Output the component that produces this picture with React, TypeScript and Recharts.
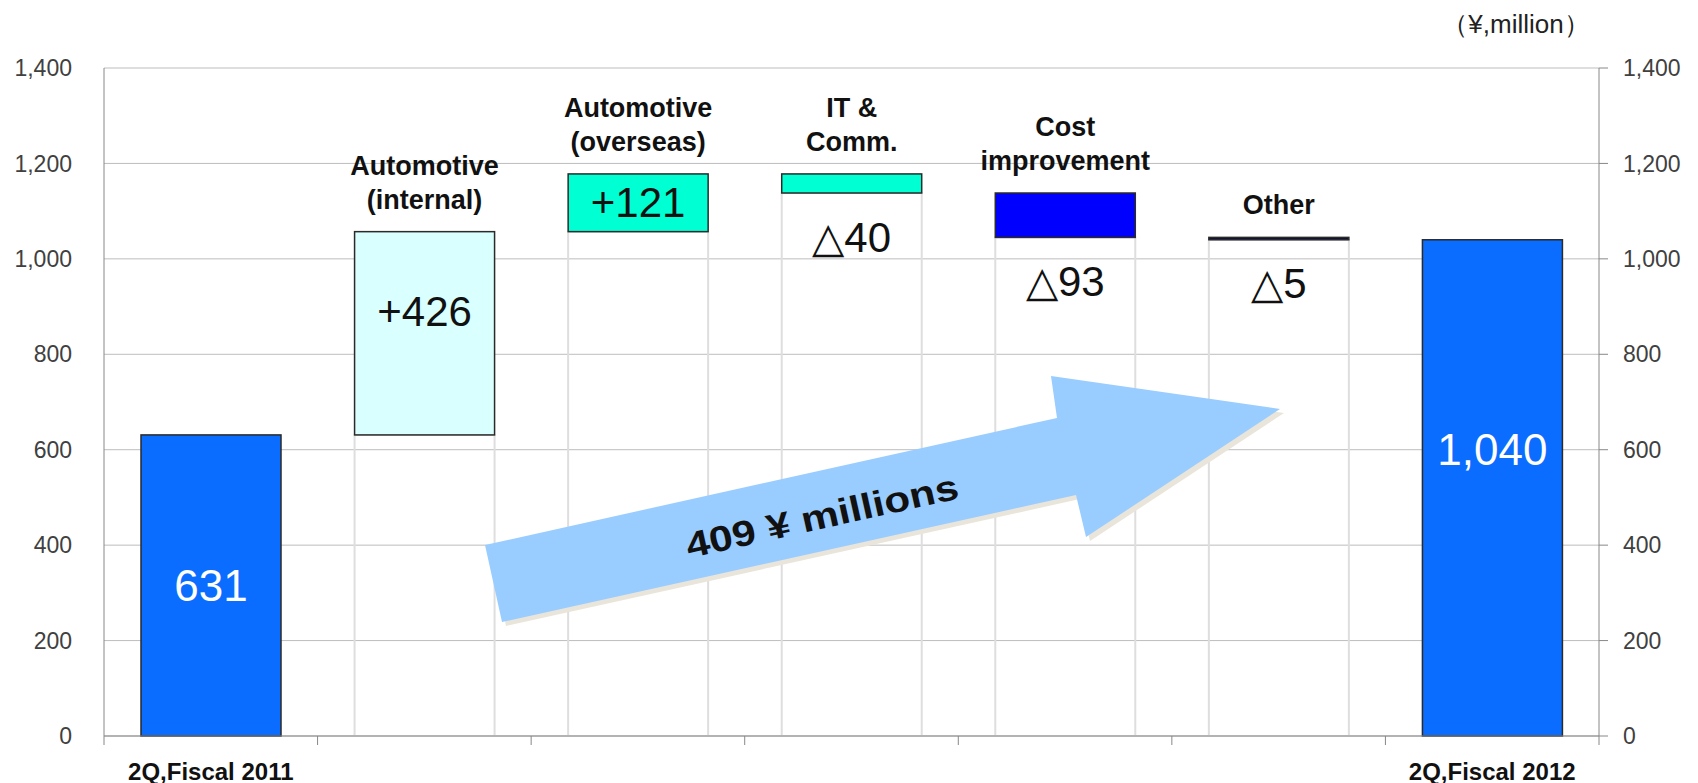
import React from "react";
import { Bar, ComposedChart, CartesianGrid, Line, XAxis, YAxis } from "recharts";

const startLabel = "2Q,Fiscal 2011";
const endLabel = "2Q,Fiscal 2012";
const startValue = 631;
const endValue = 1040;
const driverNames = [
  ["Automotive", "(internal)"],
  ["Automotive", "(overseas)"],
  ["IT &", "Comm."],
  ["Cost", "improvement"],
  ["Other"],
];
const driverChanges = [426, 121, -40, -93, -5];
const yTicks = [0, 200, 400, 600, 800, 1000, 1200, 1400];
const unitLabel = "（¥,million）";
const arrowLabel = "409 ¥ millions";

const totalColor = "#0a6dff";
const driverColors = ["#d9ffff", "#00ffd2", "#00ffd2", "#0000ff", "#10103c"];

const W = 1698;
const H = 783;
const PLOT_LEFT = 104;
const PLOT_RIGHT = 1599;
const FONT = "'Liberation Sans', Arial, sans-serif";

type Row = {
  key: string;
  lines: string[];
  axis: string;
  base: number;
  size: number;
  value: number;
  kind: "total" | "up" | "down";
  fill: string;
};

const rows: Row[] = [];
rows.push({ key: startLabel, lines: [], axis: startLabel, base: 0, size: startValue, value: startValue, kind: "total", fill: totalColor });
let level = startValue;
driverChanges.forEach((c, i) => {
  const next = level + c;
  rows.push({
    key: driverNames[i].join(" "),
    lines: driverNames[i],
    axis: "",
    base: Math.min(level, next),
    size: Math.abs(c),
    value: c,
    kind: c >= 0 ? "up" : "down",
    fill: driverColors[i],
  });
  level = next;
});
rows.push({ key: endLabel, lines: [], axis: endLabel, base: 0, size: endValue, value: endValue, kind: "total", fill: totalColor });

const bandWidth = (PLOT_RIGHT - PLOT_LEFT) / rows.length;

function valueText(r: Row): string {
  if (r.kind === "total") return r.value.toLocaleString("en-US");
  if (r.kind === "up") return `+${r.value}`;
  return `△${-r.value}`;
}

function BaseShape(props: any) {
  const { x, y, width, height } = props;
  if (!height || height <= 0) return null;
  return <rect x={x} y={y} width={width} height={height} fill="none" stroke="#dedede" strokeWidth={2} />;
}

function DeltaShape(props: any) {
  const { x, y, width, height, payload } = props;
  const r = payload as Row;
  const cx = x + width / 2;
  const lineGap = 34;
  return (
    <g>
      <rect x={x} y={y} width={width} height={Math.max(height, 1)} fill={r.fill} stroke="#2a2a2a" strokeWidth={1.5} />
      {r.lines.map((t, i) => (
        <text
          key={t}
          x={cx}
          y={y - 32 - (r.lines.length - 1 - i) * lineGap}
          textAnchor="middle"
          dominantBaseline="central"
          fontSize={27}
          fontWeight="bold"
          fill="#111"
        >
          {t}
        </text>
      ))}
      {r.kind === "total" && (
        <text x={cx} y={y + Math.min(height / 2, 210)} textAnchor="middle" dominantBaseline="central" fontSize={44} fill="#fff">
          {valueText(r)}
        </text>
      )}
      {r.kind === "up" && (
        <text x={cx} y={y + Math.min(height / 2, 80)} textAnchor="middle" dominantBaseline="central" fontSize={42} fill="#111">
          {valueText(r)}
        </text>
      )}
      {r.kind === "down" && (
        <text x={cx} y={y + height + 44} textAnchor="middle" dominantBaseline="central" fontSize={42} fill="#111">
          {valueText(r)}
        </text>
      )}
    </g>
  );
}

function AxisTick(props: any) {
  const { x, y, payload, index } = props;
  const r = rows.find((d) => d.key === payload.value);
  const left = x - bandWidth / 2;
  return (
    <g>
      <line x1={left} y1={y} x2={left} y2={y + 9} stroke="#888" />
      {index === rows.length - 1 && <line x1={x + bandWidth / 2} y1={y} x2={x + bandWidth / 2} y2={y + 9} stroke="#888" />}
      {r && r.axis && (
        <text x={x} y={y + 35} textAnchor="middle" dominantBaseline="central" fontSize={24} fontWeight="bold" fill="#111">
          {r.axis}
        </text>
      )}
    </g>
  );
}

export default function App() {
  return (
    <div style={{ position: "relative", width: W, height: H, background: "#fff", fontFamily: FONT }}>
      <style>{"body{margin:0}"}</style>
      <ComposedChart
        width={W}
        height={H}
        data={rows}
        barSize={140}
        margin={{ top: 68, right: 19, bottom: 7, left: 24 }}
        style={{ fontFamily: FONT }}
      >
        <CartesianGrid vertical={false} stroke="#bdbdbd" />
        <XAxis
          dataKey="key"
          interval={0}
          height={40}
          tickLine={false}
          tickSize={0}
          tickMargin={0}
          axisLine={{ stroke: "#888" }}
          tick={(p: any) => <AxisTick {...p} />}
        />
        <YAxis
          width={80}
          domain={[0, 1400]}
          ticks={yTicks}
          tickLine={false}
          tickSize={6}
          tickMargin={26}
          axisLine={{ stroke: "#888" }}
          tickFormatter={(v: number) => v.toLocaleString("en-US")}
          tick={{ fontSize: 23, fill: "#404040" }}
        />
        <YAxis
          yAxisId="right"
          orientation="right"
          width={80}
          domain={[0, 1400]}
          ticks={yTicks}
          tickSize={9}
          tickMargin={15}
          tickLine={{ stroke: "#888" }}
          axisLine={{ stroke: "#888" }}
          tickFormatter={(v: number) => v.toLocaleString("en-US")}
          tick={{ fontSize: 23, fill: "#404040" }}
        />
        <Bar dataKey="base" stackId="w" shape={BaseShape} isAnimationActive={false} />
        <Bar dataKey="size" stackId="w" shape={DeltaShape} isAnimationActive={false} />
        <Line
          yAxisId="right"
          dataKey="size"
          stroke="none"
          dot={false}
          activeDot={false}
          legendType="none"
          isAnimationActive={false}
        />
      </ComposedChart>
      <svg width={W} height={H} style={{ position: "absolute", left: 0, top: 0, pointerEvents: "none" }}>
        <text x={1516} y={24} textAnchor="middle" dominantBaseline="central" fontSize={26} fill="#222" fontFamily={FONT}>
          {unitLabel}
        </text>
        <polygon points="489,549 1061,422 1055,380 1284,413 1090,541 1080,499 506,626" fill="#e9e5da" />
        <polygon points="485,545 1057,418 1051,376 1280,409 1086,537 1076,495 502,622" fill="#99ccff" />
        <text
          x={822}
          y={516}
          textAnchor="middle"
          dominantBaseline="central"
          fontSize={36}
          fontWeight="bold"
          fill="#111"
          fontFamily={FONT}
          textLength={278}
          lengthAdjust="spacingAndGlyphs"
          transform="rotate(-12.5 822 516)"
        >
          {arrowLabel}
        </text>
      </svg>
    </div>
  );
}
